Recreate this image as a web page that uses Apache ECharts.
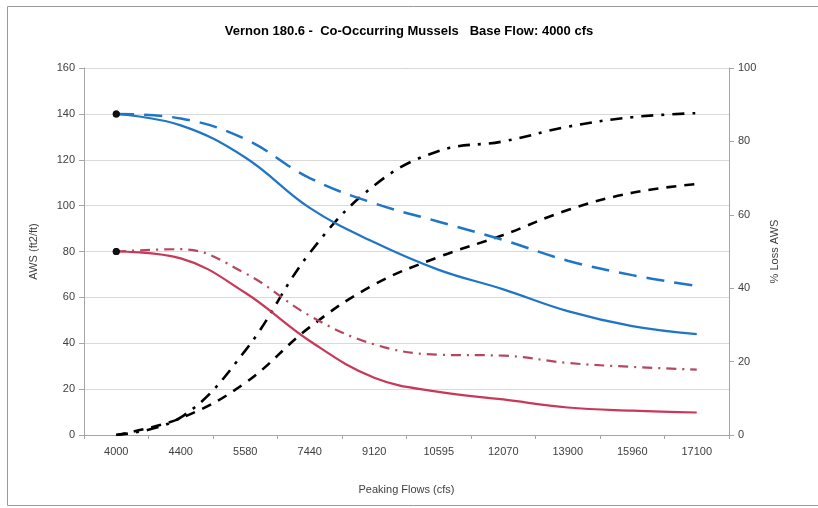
<!DOCTYPE html>
<html>
<head>
<meta charset="utf-8">
<script src="https://cdn.jsdelivr.net/npm/echarts@6/dist/echarts.min.js"></script>
<style>
html,body{margin:0;padding:0;background:#fff;}
#c{width:818px;height:508px;}
</style>
</head>
<body>
<div id="c"></div>
<script>
const categories = ['4000','4400','5580','7440','9120','10595','12070','13900','15960','17100'];
const awsBlueSolid  = [140, 135, 121, 99, 84, 72, 63.5, 54, 47.5, 44];
const awsBlueDashed = [140, 138, 129, 112, 101, 93, 85, 76, 69.7, 65];
const awsRedSolid   = [80, 77, 62, 41, 25, 18.8, 15.5, 12, 10.6, 9.8];
const awsRedDashDot = [80, 81, 70.5, 52, 39.5, 35, 34.6, 31.4, 29.7, 28.5];
const lossDashDot   = [0, 4.8, 23, 49.6, 68, 77.4, 80, 84, 86.6, 87.7];
const lossDashed    = [0, 4.6, 14.2, 29.4, 41, 48.5, 54.5, 61.3, 66, 68.4];
const leftTicks = {min: 0, max: 160, interval: 20};
const rightTicks = {min: 0, max: 100, interval: 20};

const chart = echarts.init(document.getElementById('c'));
const font = 'Liberation Sans, Arial, sans-serif';
const firstDot = (v, p) => p.dataIndex === 0 ? 7 : 0;
function line(name, data, color, type, width, yIdx, dot) {
  return {
    name, type: 'line', data, yAxisIndex: yIdx, smooth: 0.4,
    symbol: 'circle', symbolSize: dot ? firstDot : 0, showAllSymbol: true,
    itemStyle: {color: '#111'},
    lineStyle: {color, width, type},
    emphasis: {disabled: true}, z: dot ? 3 : 2
  };
}
chart.setOption({
  animation: false,
  backgroundColor: '#fff',
  textStyle: {fontFamily: font},
  title: {
    text: 'Vernon 180.6 -  Co-Occurring Mussels   Base Flow: 4000 cfs',
    left: 'center', top: 20,
    textStyle: {fontSize: 13, fontWeight: 'bold', color: '#000', fontFamily: font}
  },
  graphic: [{
    type: 'rect', shape: {x: 7.5, y: 6.5, width: 830, height: 499},
    style: {fill: 'none', stroke: '#9a9a9a', lineWidth: 1}, silent: true
  }, {
    type: 'rect', shape: {x: 84.5, y: 68.5, width: 645, height: 367},
    style: {fill: 'none', stroke: '#a6a6a6', lineWidth: 1}, silent: true, z: 0
  }],
  grid: {left: 84, right: 89, top: 68, bottom: 73},
  xAxis: {
    type: 'category', data: categories, boundaryGap: true,
    name: 'Peaking Flows (cfs)', nameLocation: 'middle', nameGap: 49,
    nameTextStyle: {fontSize: 11, color: '#404040'},
    axisLine: {lineStyle: {color: '#a6a6a6'}},
    axisTick: {show: true, length: 4, lineStyle: {color: '#a6a6a6'}},
    axisLabel: {fontSize: 11, color: '#404040', margin: 11, interval: 0}
  },
  yAxis: [{
    type: 'value', position: 'left', ...leftTicks,
    name: 'AWS (ft2/ft)', nameLocation: 'middle', nameGap: 45, nameRotate: 90,
    nameTextStyle: {fontSize: 11, color: '#404040'},
    axisLine: {show: true, lineStyle: {color: '#a6a6a6'}},
    axisTick: {show: true, length: 5, lineStyle: {color: '#a6a6a6'}},
    axisLabel: {fontSize: 11, color: '#404040', margin: 9},
    splitLine: {lineStyle: {color: '#d9d9d9', width: 1}}
  }, {
    type: 'value', position: 'right', ...rightTicks,
    name: '% Loss AWS', nameLocation: 'middle', nameGap: 40, nameRotate: 90,
    nameTextStyle: {fontSize: 11, color: '#404040'},
    axisLine: {show: true, lineStyle: {color: '#a6a6a6'}},
    axisTick: {show: true, length: 5, lineStyle: {color: '#a6a6a6'}},
    axisLabel: {fontSize: 11, color: '#404040', margin: 9},
    splitLine: {show: false}
  }],
  series: [
    line('Blue dashed', awsBlueDashed, '#1f75c6', [18, 10], 2.5, 0, true),
    line('Blue solid', awsBlueSolid, '#1f75c6', 'solid', 2.2, 0, true),
    line('Red dash-dot', awsRedDashDot, '#b5475e', [10, 6, 2, 6], 2.2, 0, true),
    line('Red solid', awsRedSolid, '#c8385a', 'solid', 2.2, 0, true),
    line('Loss dash-dot', lossDashDot, '#000', [12, 8, 3, 8], 2.6, 1, false),
    line('Loss dashed', lossDashed, '#000', [10, 8], 2.6, 1, false)
  ]
});
</script>
</body>
</html>
